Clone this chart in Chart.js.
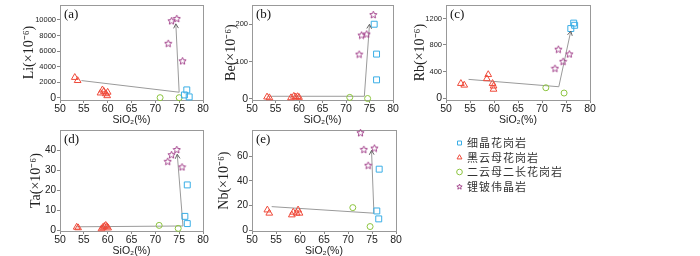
<!DOCTYPE html>
<html><head><meta charset="utf-8">
<script src="https://cdn.jsdelivr.net/npm/chart.js@4.4.1/dist/chart.umd.min.js"></script>
<style>
html,body{margin:0;padding:0;background:#fff;width:700px;height:256px;overflow:hidden;position:relative}
canvas{position:absolute}
</style></head><body>
<canvas id="ca" style="left:0px;top:0px;width:215px;height:130px" width="215" height="130"></canvas>
<canvas id="cb" style="left:205px;top:0px;width:200px;height:130px" width="200" height="130"></canvas>
<canvas id="cc" style="left:400px;top:0px;width:200px;height:130px" width="200" height="130"></canvas>
<canvas id="cd" style="left:0px;top:125px;width:215px;height:131px" width="215" height="131"></canvas>
<canvas id="ce" style="left:205px;top:125px;width:200px;height:131px" width="200" height="131"></canvas>
<canvas id="cl" style="left:454px;top:134px;width:240px;height:70px" width="240" height="70"></canvas>
<script>
// ---------- data ----------
const categories = ['细晶花岗岩', '黑云母花岗岩', '二云母二长花岗岩', '锂铍伟晶岩'];
const xTicks = [50, 55, 60, 65, 70, 75, 80];

// (a) Li
const liTicks = [0, 2000, 4000, 6000, 8000, 10000];
const liSquare = [[76.6, 1000], [76.1, 350], [77.1, 100]];
const liTriangle = [[53.1, 2600], [53.7, 2200], [58.5, 600], [58.9, 1000], [59.2, 800], [59.6, 500], [59.9, 250], [60.0, 700]];
const liCircle = [[71.0, 0], [75.0, 0]];
const liStar = [[73.4, 9900], [74.5, 10200], [72.7, 7000], [75.7, 4750]];
const liArrow = [[54.5, 2200], [75.0, 700], [74.3, 9500]];

// (b) Be
const beTicks = [0, 100, 200];
const beSquare = [[76.0, 200], [76.5, 120], [76.5, 51]];
const beTriangle = [[53.2, 5], [53.7, 3], [58.3, 3], [58.9, 7], [59.3, 5], [59.7, 6], [60.0, 4]];
const beCircle = [[70.8, 4], [74.6, 1]];
const beStar = [[75.8, 226], [73.3, 171], [74.4, 174], [72.8, 120]];
const beArrow = [[53.5, 7], [73.9, 7], [75.0, 200]];

// (c) Rb
const rbTicks = [0, 400, 800, 1200];
const rbSquare = [[76.0, 1048], [76.6, 1130], [76.8, 1097]];
const rbTriangle = [[53.1, 219], [53.8, 194], [58.8, 353], [58.5, 291], [59.9, 180], [59.9, 132], [59.7, 219]];
const rbCircle = [[70.8, 155], [74.6, 75]];
const rbStar = [[73.4, 737], [75.7, 665], [74.4, 554], [72.7, 449]];
const rbArrow = [[54.7, 281], [73.5, 170], [76.0, 1010]];

// (d) Ta
const taTicks = [0, 10, 20, 30, 40];
const taSquare = [[76.7, 22.7], [76.2, 7.0], [76.7, 3.4]];
const taTriangle = [[53.5, 1.6], [53.8, 1.3], [58.7, 0.8], [59.0, 1.5], [59.3, 2.0], [59.6, 2.5], [59.9, 1.8], [60.1, 1.2]];
const taCircle = [[70.8, 2.5], [74.8, 1.0]];
const taStar = [[74.5, 40.4], [73.4, 37.8], [72.6, 34.5], [75.6, 31.7]];
const taArrow = [[53.5, 1.8], [75.8, 2.2], [74.6, 38]];

// (e) Nb
const nbTicks = [0, 20, 40, 60];
const nbSquare = [[76.5, 49.5], [76.0, 15.7], [76.4, 9.3]];
const nbTriangle = [[53.2, 16.5], [53.6, 13.9], [58.3, 12.5], [58.6, 14.7], [59.3, 13.9], [59.6, 16.5], [59.9, 13.9]];
const nbCircle = [[71.0, 18.4], [74.6, 3.1]];
const nbStar = [[72.6, 79], [73.3, 65.5], [75.5, 66.6], [74.2, 52.7]];
const nbArrow = [[54.1, 19.2], [75.4, 13.9], [74.9, 64.7]];

// ---------- styling ----------
const COLORS = ['#3aaee6', '#ef4a3a', '#8cc43f', '#a3438c'];
const LINE_GRAY = '#9a9a9a';
const FRAME_GRAY = '#999';

function makeStar(color, size) {
  const c = document.createElement('canvas');
  c.width = size; c.height = size;
  const g = c.getContext('2d');
  g.strokeStyle = color; g.lineWidth = 1;
  const cx = size / 2, cy = size / 2 + 0.4, R = size / 2 - 0.7, r = R * 0.45;
  g.beginPath();
  for (let i = 0; i < 10; i++) {
    const a = -Math.PI / 2 + i * Math.PI / 5;
    const rr = i % 2 ? r : R;
    const px = cx + rr * Math.cos(a), py = cy + rr * Math.sin(a);
    if (i === 0) g.moveTo(px, py); else g.lineTo(px, py);
  }
  g.closePath(); g.stroke();
  return c;
}
const starBig = makeStar(COLORS[3], 9);
const starSmall = makeStar(COLORS[3], 7);

const framePlugin = {
  id: 'frame',
  beforeDatasetsDraw(chart, args, opts) {
    const { ctx, chartArea: a } = chart;
    ctx.save();
    ctx.strokeStyle = FRAME_GRAY; ctx.lineWidth = 1;
    ctx.strokeRect(Math.round(a.left) + 0.5, Math.round(a.top) + 0.5,
      Math.round(a.right - a.left), Math.round(a.bottom - a.top));
    if (opts && opts.label) {
      ctx.fillStyle = '#111';
      ctx.font = '13px "Liberation Serif"';
      ctx.textBaseline = 'top';
      ctx.fillText(opts.label, a.left + 4, a.top + 3);
    }
    ctx.restore();
  }
};

const arrowPlugin = {
  id: 'arrowHead',
  afterDatasetsDraw(chart) {
    const ctx = chart.ctx;
    chart.data.datasets.forEach((ds, i) => {
      if (!ds.arrow) return;
      const pts = chart.getDatasetMeta(i).data;
      const n = pts.length;
      if (n < 2) return;
      const p1 = pts[n - 2], p2 = pts[n - 1];
      const ang = Math.atan2(p2.y - p1.y, p2.x - p1.x), L = 5, w = 0.5;
      ctx.save();
      ctx.strokeStyle = '#666'; ctx.lineWidth = 1;
      ctx.beginPath();
      ctx.moveTo(p2.x - L * Math.cos(ang - w), p2.y - L * Math.sin(ang - w));
      ctx.lineTo(p2.x, p2.y);
      ctx.lineTo(p2.x - L * Math.cos(ang + w), p2.y - L * Math.sin(ang + w));
      ctx.stroke();
      ctx.restore();
    });
  }
};

const toXY = arr => arr.map(p => ({ x: p[0], y: p[1] }));

function panel(id, cfg) {
  const pointSet = (data, style, color, radius) => ({
    data: toXY(data), pointStyle: style, pointRadius: radius,
    borderColor: color, backgroundColor: 'rgba(0,0,0,0)', borderWidth: 1,
    pointBorderWidth: 1, clip: false
  });
  new Chart(document.getElementById(id), {
    type: 'scatter',
    data: {
      datasets: [
        { data: toXY(cfg.arrow), showLine: true, borderColor: LINE_GRAY, borderWidth: 1,
          pointRadius: 0, arrow: true, clip: false, order: 5 },
        pointSet(cfg.square, 'rect', COLORS[0], 4.2),
        pointSet(cfg.triangle, 'triangle', COLORS[1], 3.9),
        pointSet(cfg.circle, 'circle', COLORS[2], 3),
        pointSet(cfg.star, starBig, COLORS[3], 4)
      ]
    },
    options: {
      responsive: false, animation: false, events: [],
      layout: { padding: { left: 0, right: cfg.padR, top: cfg.padT, bottom: 0 } },
      scales: {
        x: {
          type: 'linear', min: 50, max: 80,
          afterBuildTicks: s => { s.ticks = xTicks.map(v => ({ value: v })); },
          afterFit: s => { s.height = cfg.xH; s.paddingLeft = 0; s.paddingRight = 0; },
          border: { display: false },
          grid: { display: true, drawOnChartArea: false, drawTicks: true, tickLength: 3, color: '#888' },
          ticks: { padding: 0, maxRotation: 0, autoSkip: false, color: '#222',
                   callback: v => String(v),
                   font: { family: 'Liberation Sans', size: 10.5 } },
          title: { display: true, text: 'SiO₂(%)', color: '#222',
                   font: { family: 'Liberation Sans', size: 10.5, lineHeight: 1.0 },
                   padding: { top: 0, bottom: cfg.xTitlePad } }
        },
        y: {
          type: 'linear', min: cfg.yMin, max: cfg.yMax,
          afterBuildTicks: s => { s.ticks = cfg.yTicks.map(v => ({ value: v })); },
          afterFit: s => { s.width = cfg.yW; s.paddingTop = 0; s.paddingBottom = 0; },
          border: { display: false },
          grid: { display: true, drawOnChartArea: false, drawTicks: true, tickLength: 3, color: '#888' },
          ticks: { padding: 1, autoSkip: false, color: '#222',
                   callback: v => String(v),
                   font: c => ({ family: 'Liberation Sans',
                                 size: (c.tick && c.tick.value === 0) ? 10.5 : cfg.yTickSize }) },
          title: { display: true, text: cfg.yTitle, color: '#222',
                   font: { family: 'Liberation Serif', size: 14, lineHeight: 1.2 },
                   padding: { top: cfg.yTitlePad, bottom: 0 } }
        }
      },
      plugins: {
        legend: { display: false }, tooltip: { enabled: false },
        frame: { label: cfg.label }
      }
    },
    plugins: [framePlugin, arrowPlugin]
  });
}

panel('ca', { label: '(a)', yTitle: 'Li(×10⁻⁶)', yMin: -300, yMax: 11900, yTicks: liTicks,
  square: liSquare, triangle: liTriangle, circle: liCircle, star: liStar, arrow: liArrow,
  yW: 60, xH: 30, padR: 12, padT: 1, yTickSize: 7.5, yTitlePad: 20.6, xTitlePad: 4.7 });
panel('cb', { label: '(b)', yTitle: 'Be(×10⁻⁶)', yMin: -3, yMax: 251, yTicks: beTicks,
  square: beSquare, triangle: beTriangle, circle: beCircle, star: beStar, arrow: beArrow,
  yW: 47, xH: 30, padR: 12, padT: 1, yTickSize: 7.5, yTitlePad: 17.6, xTitlePad: 4.7 });
panel('cc', { label: '(c)', yTitle: 'Rb(×10⁻⁶)', yMin: -30, yMax: 1400, yTicks: rbTicks,
  square: rbSquare, triangle: rbTriangle, circle: rbCircle, star: rbStar, arrow: rbArrow,
  yW: 46, xH: 30, padR: 10, padT: 1, yTickSize: 7.5, yTitlePad: 11.6, xTitlePad: 4.7 });
panel('cd', { label: '(d)', yTitle: 'Ta(×10⁻⁶)', yMin: -0.3, yMax: 50, yTicks: taTicks,
  square: taSquare, triangle: taTriangle, circle: taCircle, star: taStar, arrow: taArrow,
  yW: 60, xH: 25, padR: 12, padT: 5, yTickSize: 10, yTitlePad: 27.6, xTitlePad: 0 });
panel('ce', { label: '(e)', yTitle: 'Nb(×10⁻⁶)', yMin: -0.5, yMax: 81, yTicks: nbTicks,
  square: nbSquare, triangle: nbTriangle, circle: nbCircle, star: nbStar, arrow: nbArrow,
  yW: 47, xH: 25, padR: 9, padT: 5, yTickSize: 10, yTitlePad: 10.6, xTitlePad: 0 });

// ---------- legend ----------
const legendStyles = ['rect', 'triangle', 'circle', starSmall];
new Chart(document.getElementById('cl'), {
  type: 'scatter',
  data: {
    datasets: categories.map((c, i) => ({
      label: c, data: [], pointStyle: legendStyles[i],
      borderColor: COLORS[i], backgroundColor: 'rgba(0,0,0,0)', borderWidth: 1
    }))
  },
  options: {
    responsive: false, animation: false, events: [],
    layout: { padding: 0 },
    scales: { x: { display: false }, y: { display: false } },
    plugins: {
      tooltip: { enabled: false },
      legend: {
        position: 'left', align: 'start',
        labels: { usePointStyle: true, boxWidth: 4, boxHeight: 4, padding: 3.5, color: '#333',
                  font: { family: '"Noto Sans CJK SC"', size: 11 } }
      }
    }
  },
  plugins: [{ id: 'spacing', beforeDraw(chart) { chart.ctx.letterSpacing = '1px'; } }]
});
</script>
</body></html>
